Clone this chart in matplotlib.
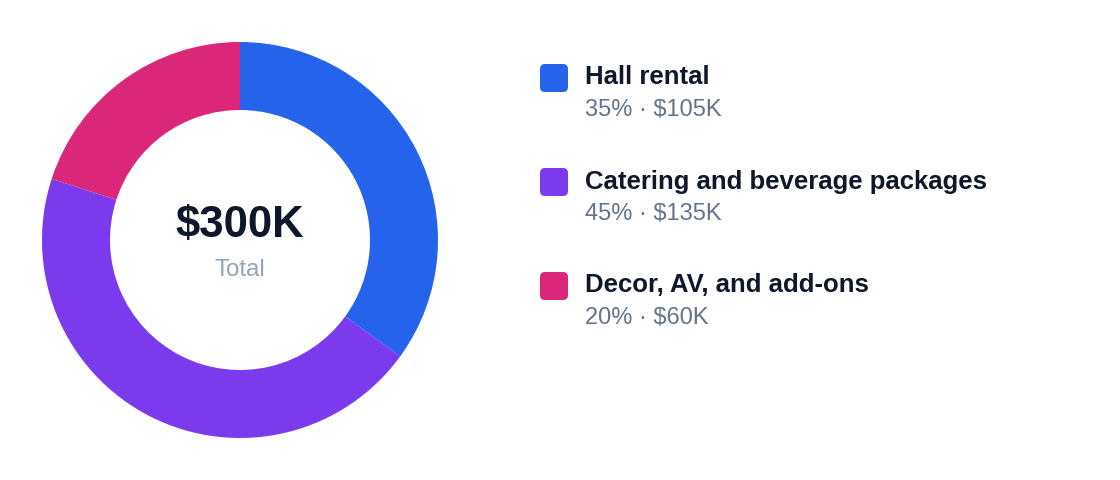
import matplotlib
matplotlib.use("Agg")
import matplotlib.pyplot as plt
from matplotlib.patches import FancyBboxPatch

plt.rcParams["font.family"] = ["Liberation Sans", "DejaVu Sans"]

# ─── Data ────────────────────────────────────────────────────────────────
labels = ["Hall rental", "Catering and beverage packages", "Decor, AV, and add-ons"]
amounts_k = [105, 135, 60]
colors = ["#2563eb", "#7c3aed", "#db2777"]
total_k = sum(amounts_k)

W, H = 1120, 480
fig = plt.figure(figsize=(W / 100, H / 100), dpi=100)
fig.patch.set_facecolor("white")

# ─── Donut ───────────────────────────────────────────────────────────────
cx, cy, r = 240, 240, 198
ax = fig.add_axes([(cx - r) / W, (H - cy - r) / H, 2 * r / W, 2 * r / H])
ax.pie(amounts_k, colors=colors, startangle=90, counterclock=False, radius=1,
       wedgeprops=dict(width=1 - 130 / 198, edgecolor="none"))
ax.set_xlim(-1, 1)
ax.set_ylim(-1, 1)
ax.set_aspect("equal")
ax.axis("off")
ax.text(0, 0.015, f"${total_k}K", ha="center", va="baseline", fontsize=31.5,
        fontweight="bold", color="#0f172a")
ax.text(0, -0.18, "Total", ha="center", va="baseline", fontsize=17.3,
        color="#94a3b8")

# ─── Legend (pixel overlay) ─────────────────────────────────────────────
lg = fig.add_axes([0, 0, 1, 1], zorder=5)
lg.set_xlim(0, W)
lg.set_ylim(H, 0)
lg.axis("off")
total = sum(amounts_k)
for i, (lab, amt, col) in enumerate(zip(labels, amounts_k, colors)):
    y0 = 64 + i * 104
    lg.add_patch(FancyBboxPatch((540 + 5, y0 + 5), 18, 18,
                                boxstyle="round,pad=5", fc=col, ec="none"))
    lg.text(585, y0 + 20.5, lab, ha="left", va="baseline", fontsize=18.5,
            fontweight="bold", color="#0f172a")
    pct = round(amt / total * 100)
    lg.text(585, y0 + 52, f"{pct}% \u00b7 ${amt}K", ha="left", va="baseline",
            fontsize=17, color="#64748b")

fig.savefig("out.png", dpi=100, facecolor="white")
plt.close()
